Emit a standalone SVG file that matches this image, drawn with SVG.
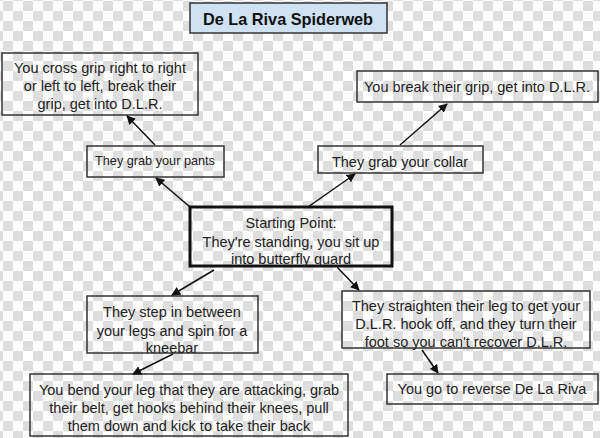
<svg xmlns="http://www.w3.org/2000/svg" width="600" height="438" viewBox="0 0 600 438">
<defs>
<pattern id="chk" x="3" y="1" width="20" height="20" patternUnits="userSpaceOnUse">
<rect width="20" height="20" fill="#ffffff"/>
<rect width="10" height="10" fill="#dedede"/>
<rect x="10" y="10" width="10" height="10" fill="#dedede"/>
</pattern>
<marker id="ah" viewBox="0 0 10 10" refX="9" refY="5" markerWidth="9" markerHeight="9" markerUnits="userSpaceOnUse" orient="auto">
<path d="M0,0 L10,5 L0,10 z" fill="#111"/>
</marker>
<style>
.box{fill:none;stroke:#333;stroke-width:1.5}
.start{fill:none;stroke:#111;stroke-width:3}
.t{font-family:"Liberation Sans",Arial,sans-serif;font-size:14.5px;fill:#222;text-anchor:middle}
.s{font-size:12.7px}
.ttl{font-family:"Liberation Sans",Arial,sans-serif;font-size:16.3px;font-weight:bold;fill:#111;text-anchor:middle}
.c{stroke:#111;stroke-width:1.5;fill:none;marker-end:url(#ah)}
</style>
</defs>
<rect width="600" height="438" fill="url(#chk)"/>
<g id="title">
<rect x="190" y="3" width="197" height="30" fill="#cfe2f3" stroke="#333" stroke-width="1.5"/>
<text class="ttl" x="288" y="25">De La Riva Spiderweb</text>
</g>
<g id="n-cross">
<rect class="box" x="2" y="53" width="196" height="62"/>
<text class="t" x="100" y="73">You cross grip right to right</text>
<text class="t" x="100" y="91">or left to left, break their</text>
<text class="t" x="100" y="109">grip, get into D.L.R.</text>
</g>
<g id="n-break">
<rect class="box" x="357" y="71" width="241" height="31"/>
<text class="t" x="477" y="92">You break their grip, get into D.L.R.</text>
</g>
<g id="n-pants">
<rect class="box" x="87" y="146" width="137" height="31"/>
<text class="t s" x="155" y="165">They grab your pants</text>
</g>
<g id="n-collar">
<rect class="box" x="318" y="146" width="165" height="27"/>
<text class="t" x="400" y="167">They grab your collar</text>
</g>
<g id="n-start">
<rect class="start" x="190" y="207" width="202" height="59"/>
<text class="t" x="291" y="228">Starting Point:</text>
<text class="t" x="291" y="247">They're standing, you sit up</text>
<text class="t" x="291" y="264">into butterfly guard</text>
</g>
<g id="n-step">
<rect class="box" x="87" y="296" width="171" height="57"/>
<text class="t" x="172" y="317">They step in between</text>
<text class="t" x="172" y="336">your legs and spin for a</text>
<text class="t" x="172" y="353">kneebar</text>
</g>
<g id="n-straighten">
<rect class="box" x="342" y="291" width="248" height="57"/>
<text class="t" x="466" y="311">They straighten their leg to get your</text>
<text class="t" x="466" y="329">D.L.R. hook off, and they turn their</text>
<text class="t" x="466" y="347">foot so you can't recover D.L.R.</text>
</g>
<g id="n-bend">
<rect class="box" x="30" y="374" width="318" height="62"/>
<text class="t" x="189" y="395">You bend your leg that they are attacking, grab</text>
<text class="t" x="189" y="413">their belt, get hooks behind their knees, pull</text>
<text class="t" x="189" y="431">them down and kick to take their back</text>
</g>
<g id="n-reverse">
<rect class="box" x="387" y="374" width="211" height="30"/>
<text class="t" x="492" y="394">You go to reverse De La Riva</text>
</g>
<g id="connectors">
<line class="c" x1="190" y1="207" x2="156" y2="178"/>
<line class="c" x1="155" y1="145" x2="127" y2="116"/>
<line class="c" x1="308" y1="207" x2="355" y2="174"/>
<line class="c" x1="400" y1="145" x2="447" y2="104"/>
<line class="c" x1="214" y1="270" x2="172" y2="295"/>
<line class="c" x1="173" y1="354" x2="133" y2="374"/>
<line class="c" x1="337" y1="267" x2="359" y2="290"/>
<line class="c" x1="422" y1="350" x2="438" y2="373"/>
</g>
</svg>
